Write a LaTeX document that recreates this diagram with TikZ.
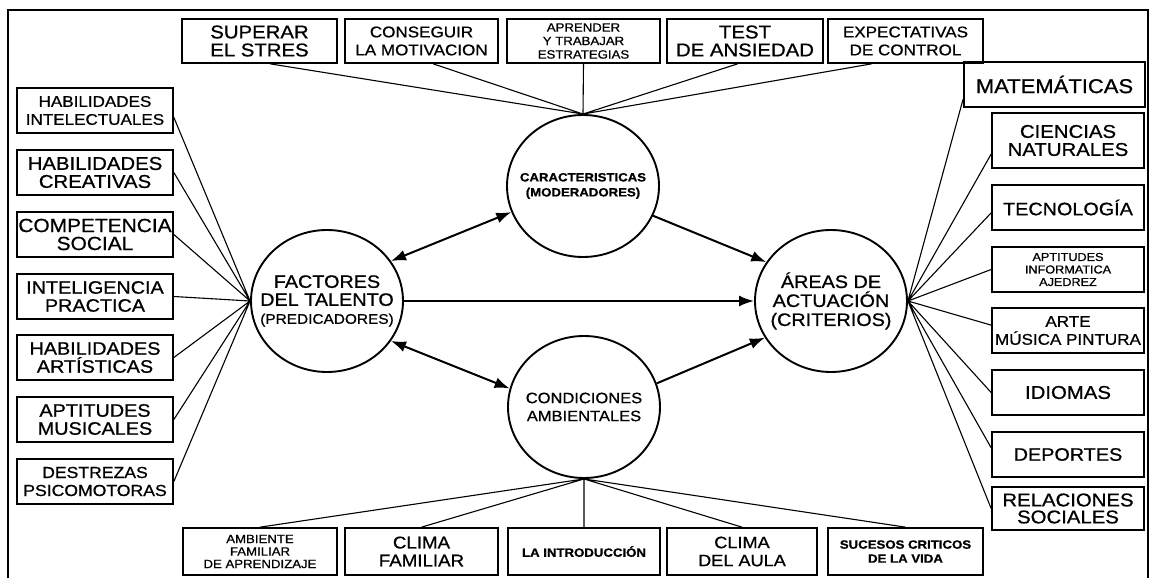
\documentclass[tikz,border=0pt]{standalone}
\usepackage{fontspec}
\setmainfont{Liberation Sans}[FakeStretch=1.1,FakeBold=0.8]
\usetikzlibrary{arrows.meta,shapes.geometric}

\begin{document}
\begin{tikzpicture}[x=1pt,y=-1pt,>={Latex[length=15pt,width=11pt]},
  box/.style={draw,line width=1.7pt,inner sep=0pt,align=center,minimum height=45pt},
  bubble/.style={draw,ellipse,line width=1.9pt,inner sep=0pt,
    minimum width=152pt,minimum height=142pt},
  caption/.style={inner sep=0pt,align=center},
  fan/.style={line width=1.1pt},
  link/.style={line width=2pt}]
  % Configurable parameters
  \def\bw{156pt}
  \def\rw{152pt}
  \def\th{44pt}
  \def\bh{47pt}
  %
  \useasboundingbox (0,0) rectangle (1152,580);
  %
  % Frame
  \draw[line width=1.4pt] (8,578) -- (8,10) -- (1148,10) -- (1148,578);
  %
  % Central bubbles
  \node[bubble] (car) at (583,186) {};
  \node[bubble] (fac) at (327,301) {};
  \node[bubble] (cond) at (584,407) {};
  \node[bubble] (area) at (831,301) {};
  \node[caption,font=\bfseries\fontsize{12}{15}\selectfont] (cartxt) at (car)
    {CARACTERISTICAS\\(MODERADORES)};
  \node[caption,font=\fontsize{18}{18}\selectfont] (factxt) at (fac)
    {FACTORES\\DEL TALENTO\\{\fontsize{14}{18}\selectfont(PREDICADORES)}};
  \node[caption,font=\fontsize{15}{18}\selectfont] (condtxt) at (cond)
    {CONDICIONES\\AMBIENTALES};
  \node[caption,font=\fontsize{18}{19}\selectfont] (areatxt) at (area)
    {ÁREAS DE\\ACTUACIÓN\\(CRITERIOS)};
  %
  % Moderators (top row)
  \node[box,minimum width=155pt,minimum height=\th,font=\fontsize{18.5}{18}\selectfont]
    (stres) at (259.5,41) {SUPERAR\\EL STRES};
  \node[box,minimum width=153pt,minimum height=\th,font=\fontsize{15.5}{18}\selectfont]
    (motiv) at (421.5,41) {CONSEGUIR\\LA MOTIVACION};
  \node[box,minimum width=153pt,minimum height=\th,font=\fontsize{12}{13.5}\selectfont]
    (estrat) at (583.5,41) {APRENDER\\Y TRABAJAR\\ESTRATEGIAS};
  \node[box,minimum width=156pt,minimum height=\th,font=\fontsize{18.5}{18}\selectfont]
    (ansied) at (745,41) {TEST\\DE ANSIEDAD};
  \node[box,minimum width=155pt,minimum height=\th,font=\fontsize{15.5}{18}\selectfont]
    (control) at (905.5,41) {EXPECTATIVAS\\DE CONTROL};
  %
  % Predictors (left column)
  \node[box,minimum width=\bw,font=\fontsize{15.5}{18}\selectfont]
    (hint) at (95,110.5) {HABILIDADES\\INTELECTUALES};
  \node[box,minimum width=\bw,font=\fontsize{18.5}{18}\selectfont]
    (hcre) at (95,172.5) {HABILIDADES\\CREATIVAS};
  \node[box,minimum width=\bw,font=\fontsize{19}{18}\selectfont]
    (csoc) at (95,234.5) {COMPETENCIA\\SOCIAL};
  \node[box,minimum width=\bw,font=\fontsize{18}{18}\selectfont]
    (iprac) at (95,296.5) {INTELIGENCIA\\PRACTICA};
  \node[box,minimum width=\bw,font=\fontsize{18}{18}\selectfont]
    (hart) at (95,357.5) {HABILIDADES\\ARTÍSTICAS};
  \node[box,minimum width=\bw,font=\fontsize{18}{18}\selectfont]
    (amus) at (95,419.5) {APTITUDES\\MUSICALES};
  \node[box,minimum width=\bw,font=\fontsize{16}{18}\selectfont]
    (dpsi) at (95,481.5) {DESTREZAS\\PSICOMOTORAS};
  %
  % Criteria (right column)
  \node[box,minimum width=181pt,font=\fontsize{20}{20}\selectfont]
    (mate) at (1054.5,84.5) {MATEMÁTICAS};
  \node[box,minimum width=\rw,minimum height=55pt,font=\fontsize{18.5}{18}\selectfont]
    (cienc) at (1068,140.5) {CIENCIAS\\NATURALES};
  \node[box,minimum width=\rw,font=\fontsize{18}{18}\selectfont]
    (tecno) at (1068,207.5) {TECNOLOGÍA};
  \node[box,minimum width=\rw,font=\fontsize{11.5}{12.5}\selectfont]
    (infor) at (1068,269.5) {APTITUDES\\INFORMATICA\\AJEDREZ};
  \node[box,minimum width=\rw,font=\fontsize{15.5}{18}\selectfont]
    (arte) at (1068,330.5) {ARTE\\MÚSICA PINTURA};
  \node[box,minimum width=\rw,font=\fontsize{18.5}{18}\selectfont]
    (idiom) at (1068,392.5) {IDIOMAS};
  \node[box,minimum width=\rw,font=\fontsize{18}{18}\selectfont]
    (depor) at (1068,454.5) {DEPORTES};
  \node[box,minimum width=\rw,minimum height=43pt,font=\fontsize{18.5}{17}\selectfont]
    (relac) at (1068,508.5) {RELACIONES\\SOCIALES};
  %
  % Environment (bottom row)
  \node[box,minimum width=154pt,minimum height=\bh,font=\fontsize{12}{12.5}\selectfont]
    (ambien) at (260,551.5) {AMBIENTE\\FAMILIAR\\DE APRENDIZAJE};
  \node[box,minimum width=153pt,minimum height=\bh,font=\fontsize{17}{18}\selectfont]
    (clifam) at (421.5,551.5) {CLIMA\\FAMILIAR};
  \node[box,minimum width=152pt,minimum height=\bh,font=\bfseries\fontsize{12}{14}\selectfont]
    (intro) at (584,551.5) {LA INTRODUCCIÓN};
  \node[box,minimum width=150pt,minimum height=\bh,font=\fontsize{16.5}{18}\selectfont]
    (cliaula) at (742,551.5) {CLIMA\\DEL AULA};
  \node[box,minimum width=155pt,minimum height=\bh,font=\bfseries\fontsize{12}{14}\selectfont]
    (suces) at (905.5,551.5) {SUCESOS CRITICOS\\DE LA VIDA};
  %
  % Fans
  \draw[fan] (stres.295.5) -- (car.north) (motiv.297.6) -- (car.north)
    (estrat.south) -- (car.north) (ansied.252.3) -- (car.north)
    (control.214.1) -- (car.north);
  \draw[fan] (hint.355) -- (fac.west) (hcre.east) -- (fac.west)
    (csoc.east) -- (fac.west) (iprac.east) -- (fac.west)
    (hart.east) -- (fac.west) (amus.east) -- (fac.west)
    (dpsi.east) -- (fac.west);
  \draw[fan] (mate.189.7) -- (area.east) (cienc.190.8) -- (area.east)
    (tecno.184) -- (area.east) (infor.west) -- (area.east)
    (arte.176) -- (area.east) (idiom.west) -- (area.east)
    (depor.175) -- (area.east) (relac.west) -- (area.east);
  \draw[fan] (ambien.north) -- (cond.south) (clifam.north) -- (cond.south)
    (intro.north) -- (cond.south) (cliaula.north) -- (cond.south)
    (suces.north) -- (cond.south);
  %
  % Arrows
  \draw[link,<->] (fac.32) -- (car.200);
  \draw[link,<->] (fac.328) -- (cond.166);
  \draw[link,->] (fac.east) -- (area.west);
  \draw[link,->] (car.337) -- (area.149);
  \draw[link,->] (cond.18) -- (area.209);
  %
\end{tikzpicture}
\end{document}
